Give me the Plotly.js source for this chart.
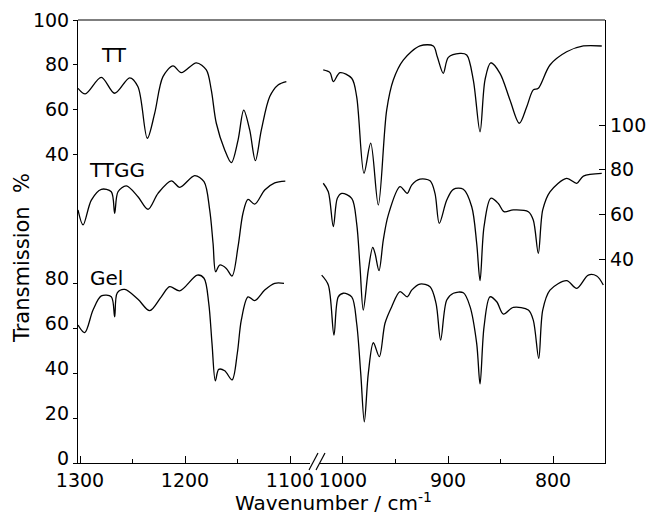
<!DOCTYPE html>
<html>
<head>
<meta charset="utf-8">
<script src="https://cdn.plot.ly/plotly-3.0.1.min.js"></script>
<style>html,body{margin:0;padding:0;background:#fff}#chart{width:647px;height:515px}</style>
</head>
<body>
<div id="chart"></div>
<script>
// ---- data (wavenumber in cm-1, transmission in %) ----
const ttLeftWn  = [1301.9,1295,1279.7,1267,1252.7,1244.8,1235.9,1228.9,1221,1211.4,1203.5,1189.2,1179.7,1175,1170.2,1162.2,1155.9,1149.5,1144.1,1138.4,1133.0,1127.3,1119.3,1111.4,1103.5];
const ttLeftT   = [69.5,67.0,74.4,67.3,74.2,70.2,47.2,58.3,74.7,79.5,76.5,80.9,77.7,68.8,53.9,42.0,36.3,46.4,59.8,50.9,37.2,50.9,65.8,71.0,72.5];
const ttRightWn = [1018.8,1012.4,1009.2,1002.9,991.7,987.0,980.0,973.6,966.4,958.4,952.1,942.6,926.7,914.0,910.2,904.5,899.7,888.6,882.2,875.9,869.5,864.8,859.3,850.5,841.0,832.1,825.0,818.8,814.0,802.9,787.0,771.1,753.6];
const ttRightT  = [77.7,76.5,72.5,76.5,74.0,65.8,31.6,45.0,17.4,59.8,73.2,82.1,88.4,88.4,83.6,76.2,83.3,85.1,84.4,73.2,50.1,73.2,80.9,76.2,64.3,53.9,61.3,68.8,69.5,79.9,85.8,88.4,88.4];

const ttggLeftWn = [1301.9,1297.1,1289.2,1279.7,1270.2,1267,1263.8,1255.9,1244.8,1235.2,1225.7,1213.0,1205.0,1190.8,1181.9,1176.5,1173.3,1170.8,1167,1160.7,1155.2,1149.5,1144.8,1140,1133.6,1124.1,1114.6,1104.5];
const ttggLeftT  = [62.1,55.4,66.5,71.3,70.2,60.6,70.2,72.8,68.0,62.4,69.5,75.1,72.2,77.4,74.7,62.1,47.2,34.5,37.5,36.0,32.6,45.7,60.6,66.8,64.7,71.0,74.2,75.0];
const ttggRightWn = [1018.8,1014.0,1009.2,1005.4,1001.2,991.7,987.0,983.8,980.7,975.9,971.7,969.5,965.7,961.6,956.9,945.7,938.8,934.6,926.7,917.1,912.4,908.3,901.2,894.9,885.4,877.4,872.7,869.5,865.7,859.3,852.1,846.7,837.8,823.5,818.8,814.0,809.8,802.9,787.0,777.4,771.1,753.6];
const ttggRightT  = [74.0,70.2,54.6,67.3,69.5,67.3,56.1,36.7,17.4,35.3,45.4,42.7,35.0,48.7,59.8,72.5,69.5,73.2,75.8,75.1,69.5,56.1,66.5,71.3,71.3,63.5,47.2,30.5,54.6,67.3,65.0,61.3,62.1,61.3,57.6,42.7,62.1,70.2,76.2,74.0,77.2,78.4];

const gelLeftWn = [1301.9,1295.5,1287.6,1279.7,1270.2,1267,1264.5,1257.4,1244.8,1233.6,1222.6,1214.6,1205.0,1188.3,1181.9,1177.4,1174.3,1171.1,1167.9,1162.2,1155.2,1150.2,1146.4,1140,1133.6,1124.1,1114.6,1105.7];
const gelLeftT  = [61.6,58.2,68.3,74.6,74.2,65.3,76.0,77.5,73.1,68.0,74.2,78.7,76.9,83.9,82.5,71.3,53.4,36.7,41.8,41.2,37.1,49.0,63.8,74.2,72.5,77.2,80.2,80.2];
const gelRightWn = [1020.3,1014.0,1008.6,1004.5,999.7,991.7,987.0,983.1,979.7,975.9,971.1,965.4,960.0,953.6,945.7,938.8,934.6,926.7,917.1,911.4,907.0,901.2,894.9,885.4,879.0,872.7,869.5,865.7,860.0,853.6,847.3,837.8,823.5,818.8,813.6,809.8,802.9,787.0,777.4,766.4,758.4,752.1];
const gelRightT  = [83.9,79.5,57.1,74.2,75.8,74.2,62.4,40.0,18.4,40.0,53.7,47.5,62.4,69.8,76.5,74.2,77.2,79.9,78.7,71.3,54.9,72.8,75.8,76.0,69.8,53.4,35.3,60.8,74.2,72.0,66.5,69.5,68.3,63.8,46.7,68.3,77.2,81.4,78.0,83.9,83.5,79.5];

const xTicksLeft = [1300, 1200, 1100];
const xTicksRight = [1000, 900, 800];
const yTicksGel = [0, 20, 40, 60, 80];
const yTicksTT = [40, 60, 80, 100];
const yTicksTTGG = [40, 60, 80, 100];

// ---- chart ----
const FONT = 'DejaVu Sans, sans-serif';
const line = {color: '#000', width: 1.3, shape: 'spline', smoothing: 0.9};
function tr(x, y, xa, ya) {
  return {x: x, y: y, xaxis: xa, yaxis: ya, type: 'scatter', mode: 'lines', line: line, hoverinfo: 'skip', showlegend: false};
}
const data = [
  tr(ttLeftWn, ttLeftT, 'x', 'y2'),
  tr(ttRightWn, ttRightT, 'x2', 'y2'),
  tr(ttggLeftWn, ttggLeftT, 'x', 'y3'),
  tr(ttggRightWn, ttggRightT, 'x2', 'y3'),
  tr(gelLeftWn, gelLeftT, 'x', 'y'),
  tr(gelRightWn, gelRightT, 'x2', 'y')
];

const tickFont = {family: FONT, size: 19, color: '#000'};
const layout = {
  width: 647, height: 515,
  margin: {l: 78, r: 42, t: 20, b: 52, pad: 0},
  paper_bgcolor: '#fff', plot_bgcolor: '#fff',
  showlegend: false,
  xaxis: {
    domain: [0, 0.4402], range: [1301.9, 1081], anchor: 'y',
    showgrid: false, zeroline: false, showline: true, linecolor: '#000', linewidth: 1.2,
    tickmode: 'array', tickvals: xTicksLeft, ticks: 'inside', ticklen: 7, tickcolor: '#000',
    minor: {tickmode: 'array', tickvals: [1250, 1150], ticks: 'inside', ticklen: 4, tickcolor: '#000'},
    tickfont: tickFont
  },
  xaxis2: {
    domain: [0.4592, 1], range: [1021.9, 750.5], anchor: 'y',
    showgrid: false, zeroline: false, showline: true, linecolor: '#000', linewidth: 1.2,
    tickmode: 'array', tickvals: xTicksRight, ticks: 'inside', ticklen: 7, tickcolor: '#000',
    minor: {tickmode: 'array', tickvals: [950, 850], ticks: 'inside', ticklen: 4, tickcolor: '#000'},
    tickfont: tickFont
  },
  yaxis: {
    range: [0, 197.8], anchor: 'x', side: 'left',
    showgrid: false, zeroline: false, showline: true, linecolor: '#000', linewidth: 1.2,
    tickmode: 'array', tickvals: yTicksGel, ticks: 'outside', ticklen: 4, tickcolor: '#000',
    ticklabelshift: -5,
    tickfont: tickFont
  },
  yaxis2: {
    range: [-97.8, 100], anchor: 'x', side: 'left', overlaying: 'y',
    showgrid: false, zeroline: false, showline: false,
    tickmode: 'array', tickvals: yTicksTT, ticks: 'outside', ticklen: 4, tickcolor: '#000',
    tickfont: tickFont
  },
  yaxis3: {
    range: [-50.9, 146.9], anchor: 'x2', side: 'right', overlaying: 'y',
    showgrid: false, zeroline: false, showline: true, linecolor: '#000', linewidth: 1.2,
    tickmode: 'array', tickvals: yTicksTTGG, ticks: 'inside', ticklen: 6, tickcolor: '#000',
    tickfont: tickFont
  },
  shapes: [
    {type: 'line', xref: 'paper', yref: 'paper', x0: 0, x1: 1, y0: 1, y1: 1, line: {color: '#000', width: 1.2}},
    {type: 'line', xref: 'paper', yref: 'paper', x0: (309-78)/527, x1: (318-78)/527, y0: (463-470)/443, y1: (463-453)/443, line: {color: '#000', width: 1.2}},
    {type: 'line', xref: 'paper', yref: 'paper', x0: (316-78)/527, x1: (325-78)/527, y0: (463-470)/443, y1: (463-453)/443, line: {color: '#000', width: 1.2}}
  ],
  annotations: [
    {text: 'TT', xref: 'x', yref: 'y2', x: 1267.6, y: 84.4, showarrow: false, font: {family: FONT, size: 20, color: '#000'}},
    {text: 'TTGG', xref: 'x', yref: 'y3', x: 1264.8, y: 79.9, showarrow: false, font: {family: FONT, size: 20, color: '#000'}},
    {text: 'Gel', xref: 'x', yref: 'y', x: 1274.3, y: 82.6, showarrow: false, font: {family: FONT, size: 20, color: '#000'}},
    {text: 'Transmission  %', xref: 'paper', yref: 'paper', x: (22-78)/527, y: (463-258)/443, xanchor: 'center', yanchor: 'middle', textangle: -90, showarrow: false, font: {family: FONT, size: 21, color: '#000'}},
    {text: 'Wavenumber / cm<sup>-1</sup>', xref: 'paper', yref: 'paper', x: (333-78)/527, y: (463-502)/443, xanchor: 'center', yanchor: 'middle', showarrow: false, font: {family: FONT, size: 20, color: '#000'}}
  ]
};
Plotly.newPlot('chart', data, layout, {staticPlot: true, displayModeBar: false});
</script>
</body>
</html>
